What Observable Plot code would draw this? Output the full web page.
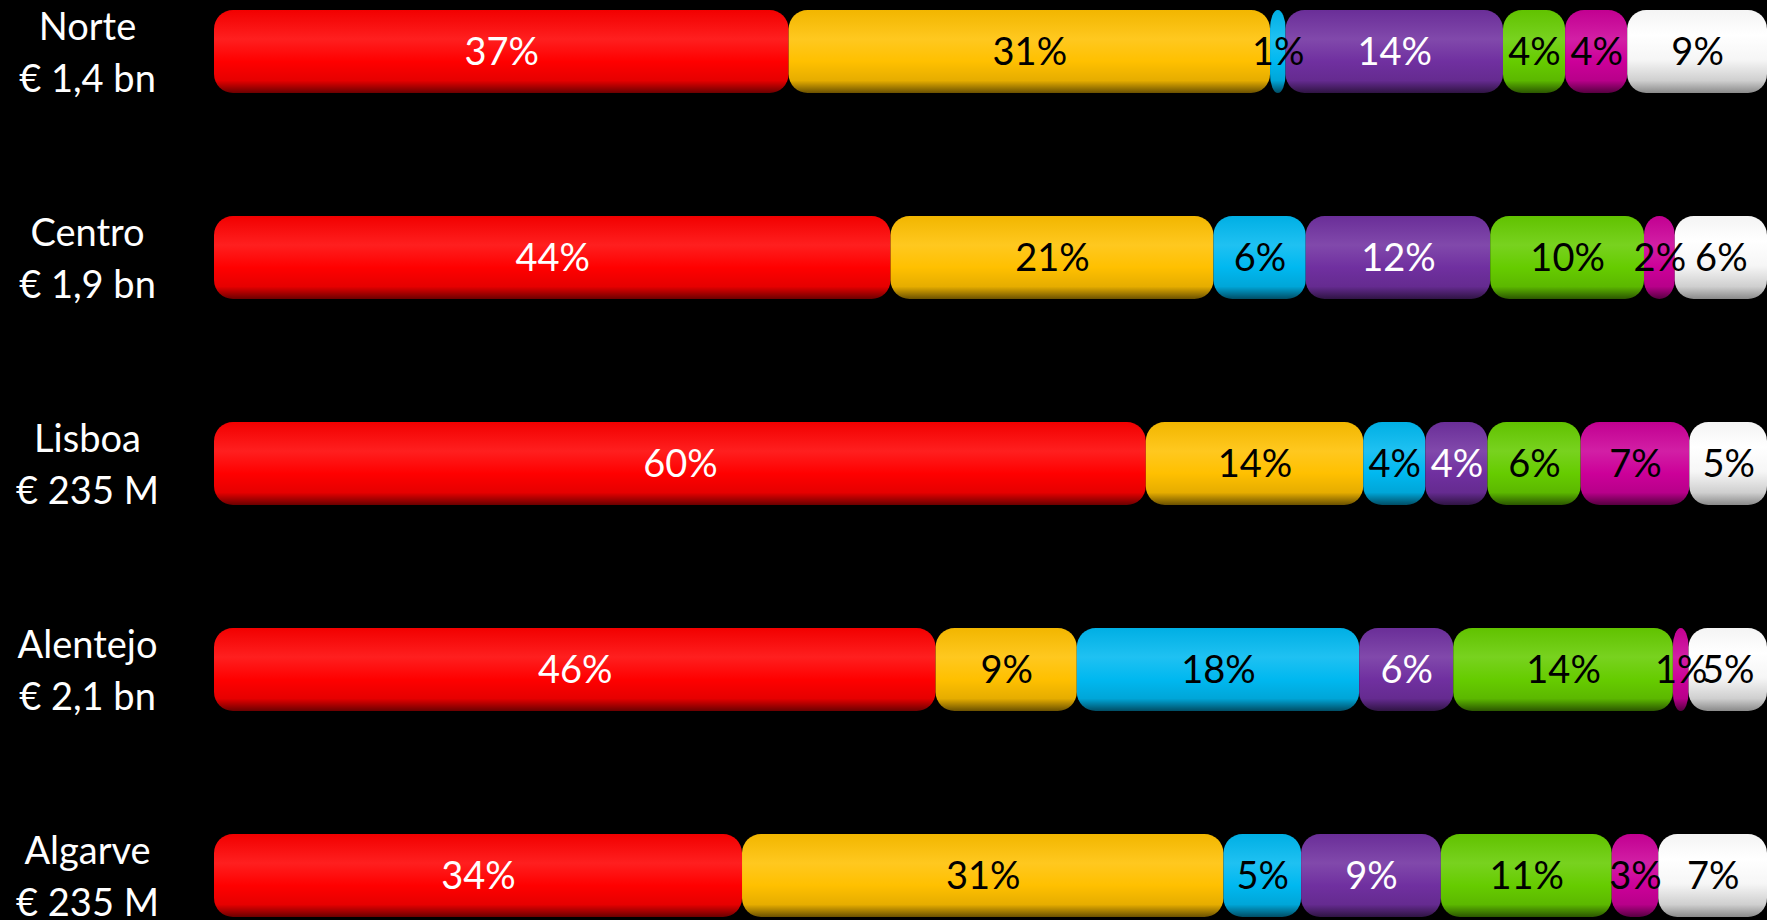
<!DOCTYPE html>
<html>
<head>
<meta charset="utf-8">
<script src="https://cdn.jsdelivr.net/npm/d3@7"></script>
<script src="https://cdn.jsdelivr.net/npm/@observablehq/plot@0.6"></script>
<style>
  html, body { margin: 0; padding: 0; background: #000; }
  #chart { width: 1767px; height: 920px; overflow: hidden; }
</style>
</head>
<body>
<div id="chart"></div>
<script>
// ---- data ----
const regions = ["Norte", "Centro", "Lisboa", "Alentejo", "Algarve"];
const totals = ["€ 1,4 bn", "€ 1,9 bn", "€ 235 M", "€ 2,1 bn", "€ 235 M"];
const series = ["S1", "S2", "S3", "S4", "S5", "S6", "S7"];
const norte    = [37, 31, 1, 14, 4, 4, 9];
const centro   = [44, 21, 6, 12, 10, 2, 6];
const lisboa   = [60, 14, 4, 4, 6, 7, 5];
const alentejo = [46, 9, 18, 6, 14, 1, 5];
const algarve  = [34, 31, 5, 9, 11, 3, 7];
const seriesColors = ["#ff0000", "#ffc000", "#00b8f0", "#7030a0", "#66cc00", "#cc0099", "#ffffff"];
const labelColors  = ["white", "black", "black", "white", "black", "black", "black"];

const rowsValues = [norte, centro, lisboa, alentejo, algarve];
const table = [];
regions.forEach((r, i) => {
  rowsValues[i].forEach((v, j) => table.push({region: r, cat: series[j], value: v, idx: j}));
});
const totalOf = new Map(regions.map((r, i) => [r, totals[i]]));
const gradIds = series.map((s, j) => "grad-" + j);

const plot = Plot.plot({
  width: 1767,
  height: 920,
  marginLeft: 214,
  marginRight: 0,
  marginTop: 9,
  marginBottom: 2,
  style: {background: "#000", fontFamily: "Lato, 'Open Sans', sans-serif"},
  x: {axis: null},
  y: {domain: regions, paddingInner: 0.598, paddingOuter: 0, axis: null},
  color: {type: "ordinal", domain: series, range: gradIds.map(id => `url(#${id})`)},
  marks: [
    Plot.barX(table, Plot.stackX({
      x: "value", y: "region", fill: "cat", offset: "normalize", order: series, rx: 19
    })),
    Plot.text(table, Plot.stackX({
      x: "value", y: "region", offset: "normalize", order: series,
      text: d => d.value + "%",
      fill: d => labelColors[d.idx],
      fontSize: 38, dy: 1
    })),
    Plot.axisY({
      tickSize: 0, tickPadding: 127, textAnchor: "middle",
      fontSize: 38, lineHeight: 1.38, fill: "white", dy: -3,
      tickFormat: r => r + "\n" + totalOf.get(r), label: null
    })
  ]
});

// cylinder-like vertical gradients
const svg = d3.select(plot);
const defs = svg.insert("defs", ":first-child");
seriesColors.forEach((c, j) => {
  const base = d3.color(c);
  const light = d3.interpolateRgb(c, "#ffffff")(0.12);
  const dark = d3.interpolateRgb(c, "#000000")(0.58);
  const mid = d3.interpolateRgb(c, "#000000")(0.1);
  const top = d3.interpolateRgb(c, "#000000")(0.05);
  const g = defs.append("linearGradient").attr("id", gradIds[j])
    .attr("x1", 0).attr("y1", 0).attr("x2", 0).attr("y2", 1);
  const stops = j === 6
    ? [[0, "#f4f4f4"], [0.3, "#ffffff"], [0.6, "#f6f6f6"], [0.85, "#cfcfcf"], [1, "#8a8a8a"]]
    : [[0, top], [0.35, light], [0.62, base.formatHex()], [0.85, mid], [1, dark]];
  stops.forEach(([o, col]) => g.append("stop").attr("offset", o).attr("stop-color", col));
});

document.getElementById("chart").appendChild(plot);
</script>
</body>
</html>
